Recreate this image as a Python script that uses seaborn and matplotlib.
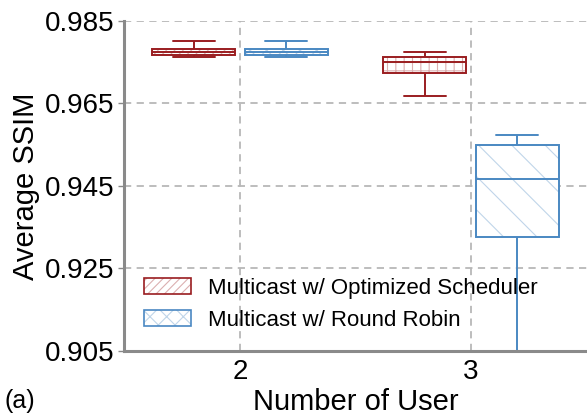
import numpy as np
import pandas as pd
import seaborn as sns
import matplotlib.pyplot as plt
from matplotlib.patches import Patch, PathPatch
from matplotlib.colors import to_rgba

# ---- data (five-number summaries: min, q1, median, q3, max)
users = ["2", "3"]
schemes = ["Multicast w/ Optimized Scheduler", "Multicast w/ Round Robin"]
opt_2 = [0.9763, 0.9768, 0.9775, 0.9783, 0.9802]
rr_2 = [0.9763, 0.9767, 0.9775, 0.9783, 0.9802]
opt_3 = [0.9669, 0.9723, 0.9751, 0.9763, 0.9774]
rr_3 = [0.8990, 0.9326, 0.9466, 0.9550, 0.9573]
yticks = [0.905, 0.925, 0.945, 0.965, 0.985]
ytick_labels = ["0.905", "0.925", "0.945", "0.965", "0.985"]

red = "#9a1d20"
blue = "#4a88c2"

rows = []
for u, s, vals in [("2", schemes[0], opt_2), ("2", schemes[1], rr_2),
                   ("3", schemes[0], opt_3), ("3", schemes[1], rr_3)]:
    for v in vals:
        rows.append({"users": u, "scheme": s, "ssim": v})
df = pd.DataFrame(rows)

sns.set_style("white")
plt.rcParams["font.family"] = ["Liberation Sans", "DejaVu Sans"]
plt.rcParams["hatch.linewidth"] = 0.8
for k in ["text.color", "axes.labelcolor", "xtick.color", "ytick.color"]:
    plt.rcParams[k] = "black"

fig = plt.figure(figsize=(5.87, 4.16), dpi=100)
ax = fig.add_axes([124 / 587, 65 / 416, 1 - 124 / 587, 330 / 416])

sns.boxplot(data=df, x="users", y="ssim", hue="scheme", order=users,
            hue_order=schemes, palette=[red, blue], fill=True,
            whis=(0, 100), width=0.8, gap=0.1, linewidth=1.4,
            legend=False, ax=ax)

# style boxes: white face, coloured edge, hatch per box (category, hue)
hatch_map = {(0, 0): "////", (0, 1): "xx", (1, 0): "++", (1, 1): "\\"}
centers = {-0.2: (0, 0), 0.2: (0, 1), 0.8: (1, 0), 1.2: (1, 1)}


def nearest(cx):
    return centers[min(centers, key=lambda c: abs(c - cx))]


for p in ax.patches:
    if not isinstance(p, PathPatch):
        continue
    ext = p.get_path().get_extents()
    ci, hi = nearest((ext.x0 + ext.x1) / 2)
    col = red if hi == 0 else blue
    p.set_facecolor("white")
    p.set_edgecolor(col)
    p.set_linewidth(1.4)
    p.set_hatch(hatch_map[(ci, hi)])
    try:
        p._hatch_color = to_rgba(col, 0.35)
    except Exception:
        pass

for ln in ax.lines:
    xd = np.asarray(ln.get_xdata(), dtype=float)
    if xd.size == 0:
        continue
    ci, hi = nearest(np.nanmean(xd))
    ln.set_color(red if hi == 0 else blue)
    ln.set_linewidth(1.4)

ax.set_ylim(0.905, 0.985)
ax.set_xlim(-0.502, 1.502)
ax.set_yticks(yticks)
ax.set_yticklabels(ytick_labels)
ax.tick_params(axis="y", labelsize=20, length=4, width=1, color="#888888",
               pad=3, direction="out", left=True)
ax.tick_params(axis="x", labelsize=20, length=0, pad=6)
ax.grid(True, color="#b8b8b8", linestyle=(0, (4, 3)), linewidth=1.3)
ax.set_axisbelow(True)
for s in ["top", "right"]:
    ax.spines[s].set_visible(False)
for s in ["left", "bottom"]:
    ax.spines[s].set_color("#8a8a8a")
    ax.spines[s].set_linewidth(2.2)

ax.set_xlabel("Number of User", fontsize=21, labelpad=2)
ax.set_ylabel("Average SSIM", fontsize=21, labelpad=3)

handles = [Patch(facecolor="white", edgecolor=red, hatch="////", linewidth=1.2),
           Patch(facecolor="white", edgecolor=blue, hatch="xx", linewidth=1.2)]
for h, col in zip(handles, [red, blue]):
    try:
        h._hatch_color = to_rgba(col, 0.35)
    except Exception:
        pass
ax.legend(handles=handles, labels=schemes, loc="upper left",
          bbox_to_anchor=(0.043, 0.222), frameon=False, fontsize=16,
          handlelength=2.1, handleheight=0.75, handletextpad=0.8,
          labelspacing=0.5, borderpad=0, borderaxespad=0)

fig.text(5 / 587, 3 / 416, "(a)", fontsize=18, ha="left", va="bottom")

fig.savefig("out.png", dpi=100)
